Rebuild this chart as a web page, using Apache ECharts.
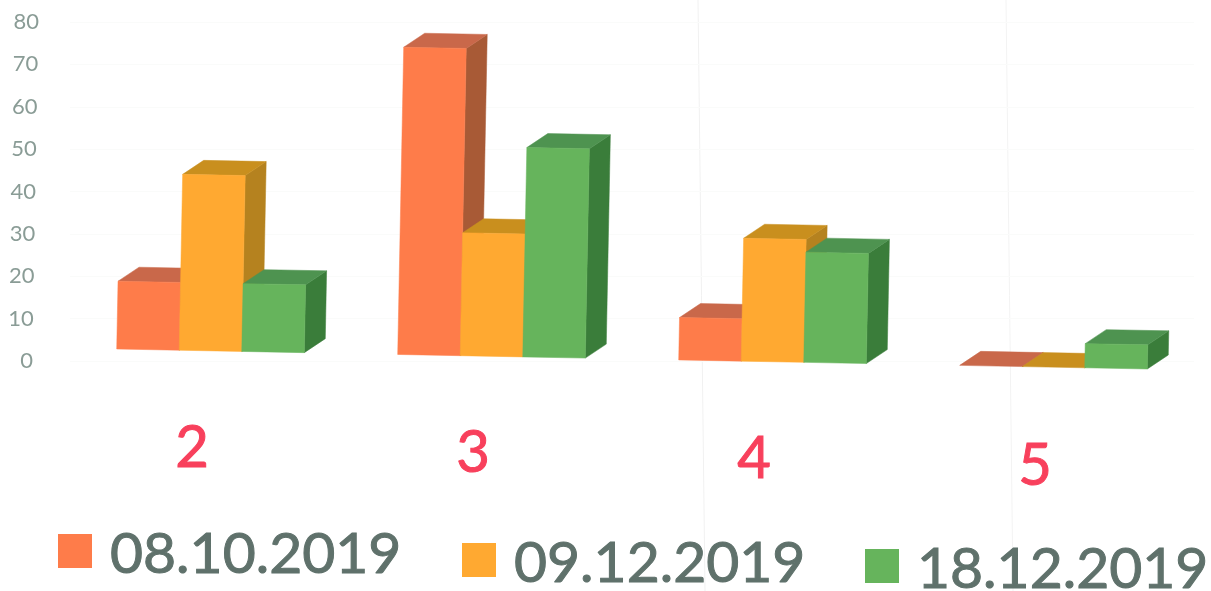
<!DOCTYPE html>
<html>
<head>
<meta charset="utf-8">
<script src="https://cdn.jsdelivr.net/npm/echarts@6/dist/echarts.min.js"></script>
<style>html,body{margin:0;padding:0;background:#fff}#c{width:1211px;height:591px}</style>
</head>
<body>
<div id="c"></div>
<script>
const categories = ['2', '3', '4', '5'];
const dates = ['08.10.2019', '09.12.2019', '18.12.2019'];
const values0810 = [16, 72.5, 10, 0];
const values0912 = [41.5, 29, 29, 0];
const values1812 = [16, 49.4, 26, 5.7];
const allValues = [values0810, values0912, values1812];
const frontColors = ['#fe7c4a', '#ffa931', '#66b45c'];
const topColors = ['#c9684a', '#c98f1e', '#4e9350'];
const sideColors = ['#a85a36', '#b5821f', '#3a7d3a'];

const tilt = 0.0195, slope = 0.0194, depthX = 21, depthY = -14;
const barShare = 0.2225, refX = 116, lift = -12;

function renderBar(params, api) {
  const cat = api.value(0), v = api.value(1);
  const band = api.size([1, 0])[0];
  const w = band * barShare;
  const off = (params.seriesIndex - 1.5) * w;
  const s = params.seriesIndex;
  const pt = (val, dx) => {
    const base = api.coord([cat, 0]);
    const c = api.coord([cat, val]);
    const x0 = base[0] + off + dx;
    return [x0 + (base[1] - c[1]) * tilt, c[1] + (x0 - refX) * slope + lift];
  };
  const bl = pt(0, 0), br = pt(0, w), tl = pt(v, 0), tr = pt(v, w);
  const sh = p => [p[0] + depthX, p[1] + depthY];
  const poly = (points, fill) => ({
    type: 'polygon',
    shape: { points },
    style: { fill, stroke: fill, lineWidth: 0.5 }
  });
  const kids = [
    poly([br, tr, sh(tr), sh(br)], sideColors[s]),
    poly([tl, tr, sh(tr), sh(tl)], topColors[s])
  ];
  if (v > 0) kids.push(poly([bl, br, tr, tl], frontColors[s]));
  return { type: 'group', children: kids };
}

const yInset = v => (80 - v) / 80 * 6;
const yRich = {};
for (let v = 0; v <= 80; v += 10) yRich['t' + v] = { padding: [0, yInset(v), 0, 0], fontSize: 22, fontFamily: 'Lato', color: '#8a9c96' };
const catDrop = [0, 5, 11, 18];
const xRich = {};
catDrop.forEach((d, i) => { xRich['c' + i] = { padding: [d, 37, 0, 0], fontSize: 58, fontFamily: 'Lato', color: '#f8405c', textBorderColor: '#f8405c', textBorderWidth: 1 }; });

const legendPos = [[58, 526], [462, 535], [865, 541]];
const chart = echarts.init(document.getElementById('c'), null, { renderer: 'canvas' });
chart.setOption({
  animation: false,
  backgroundColor: '#ffffff',
  grid: { left: 70, right: 17, top: 22, bottom: 230 },
  xAxis: {
    type: 'category', data: categories,
    axisLine: { show: false }, axisTick: { show: false },
    axisLabel: { margin: 58, interval: 0, formatter: (val, i) => `{c${i}|${val}}`, rich: xRich }
  },
  yAxis: {
    type: 'value', min: 0, max: 80, interval: 10,
    axisLine: { show: false }, axisTick: { show: false },
    splitLine: { lineStyle: { color: '#fafbfa', width: 1 } },
    axisLabel: { margin: 31, formatter: v => `{t${v}|${v}}`, rich: yRich }
  },
  legend: dates.map((d, i) => ({
    data: [d], left: legendPos[i][0], top: legendPos[i][1],
    icon: 'rect', itemWidth: 34, itemHeight: 34, padding: 0,
    formatter: '{a|{name}}',
    textStyle: {
      rich: { a: { fontSize: 57, fontFamily: 'Lato', color: '#5f716b', padding: [8, 0, 0, 13], textBorderColor: '#5f716b', textBorderWidth: 1 } }
    }
  })),
  graphic: [
    { type: 'line', silent: true, z: -1, shape: { x1: 698, y1: 0, x2: 705, y2: 591 }, style: { stroke: '#f1f1f1', lineWidth: 1 } },
    { type: 'line', silent: true, z: -1, shape: { x1: 1006, y1: 0, x2: 1013, y2: 591 }, style: { stroke: '#f3f3f3', lineWidth: 1 } }
  ],
  series: dates.map((d, i) => ({
    type: 'custom', name: d,
    itemStyle: { color: frontColors[i] },
    renderItem: renderBar,
    encode: { x: 0, y: 1 },
    data: allValues[i].map((v, c) => [c, v])
  }))
});
</script>
</body>
</html>
